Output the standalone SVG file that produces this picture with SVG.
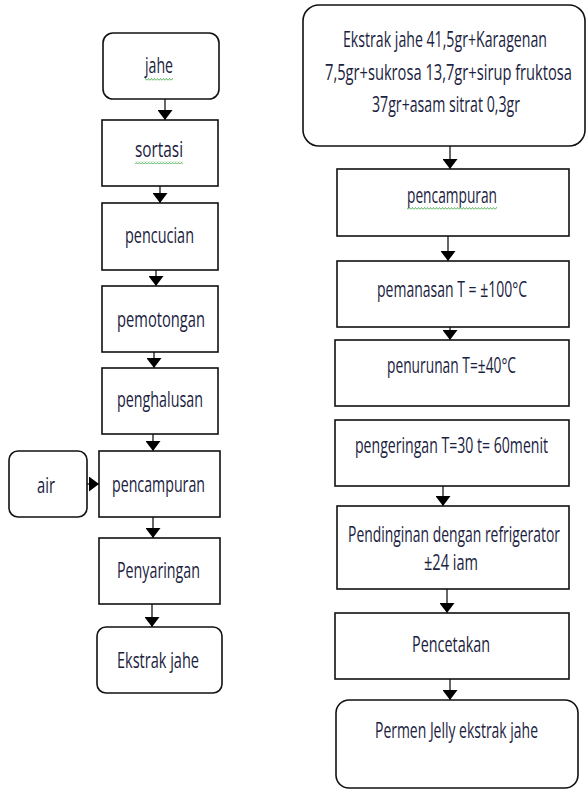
<svg xmlns="http://www.w3.org/2000/svg" width="587" height="789" viewBox="0 0 587 789">
<style>
.box{fill:#fff;stroke:#111;stroke-width:1.6}
.t{font-family:"Open Sans","Noto Sans","Liberation Sans",sans-serif;font-size:22px;fill:#1a2240;text-anchor:middle}
.c{stroke:#000;stroke-width:1.2;fill:none;marker-end:url(#ah)}
</style>
<defs>
<marker id="ah" viewBox="0 0 10 15" refX="10" refY="7.5" markerUnits="userSpaceOnUse" markerWidth="10" markerHeight="15" orient="auto">
<path d="M0 0 L10 7.5 L0 15 Z" fill="#000"/>
</marker>
<pattern id="sq" width="3" height="3" patternUnits="userSpaceOnUse">
<path d="M0 2.5 L1.5 0.5 L3 2.5" stroke="#4caf50" stroke-width="0.9" fill="none"/>
</pattern>
</defs>
<rect width="587" height="789" fill="#fff"/>
<g id="connectors">
<line class="c" x1="165" y1="99" x2="165" y2="120"/>
<line class="c" x1="160" y1="186" x2="160" y2="203"/>
<line class="c" x1="156" y1="270" x2="156" y2="286"/>
<line class="c" x1="154" y1="352" x2="154" y2="368"/>
<line class="c" x1="153" y1="434" x2="153" y2="451"/>
<line class="c" x1="87" y1="484" x2="99" y2="484"/>
<line class="c" x1="153" y1="517" x2="153" y2="538"/>
<line class="c" x1="152" y1="604" x2="152" y2="627"/>
<line class="c" x1="450" y1="146" x2="450" y2="169"/>
<line class="c" x1="448" y1="236" x2="448" y2="261"/>
<line class="c" x1="450" y1="327" x2="450" y2="340"/>
<line class="c" x1="443" y1="486" x2="443" y2="506"/>
<line class="c" x1="447" y1="589" x2="447" y2="613"/>
<line class="c" x1="450" y1="679" x2="450" y2="700"/>
</g>
<g id="n-jahe">
<rect class="box" x="103" y="33" width="116" height="66" rx="10"/>
<text class="t" transform="translate(159 73) scale(0.62 1)" textLength="45.2" lengthAdjust="spacingAndGlyphs">jahe</text>
<rect x="145" y="78" width="28" height="3" fill="url(#sq)"/>
</g>
<g id="n-sortasi">
<rect class="box" x="102" y="120" width="116" height="66"/>
<text class="t" transform="translate(159 157) scale(0.62 1)" textLength="77.4" lengthAdjust="spacingAndGlyphs">sortasi</text>
<rect x="135" y="161" width="48" height="3" fill="url(#sq)"/>
</g>
<g id="n-pencucian">
<rect class="box" x="102" y="203" width="116" height="67"/>
<text class="t" transform="translate(159.5 243) scale(0.62 1)" textLength="111.3" lengthAdjust="spacingAndGlyphs">pencucian</text>
</g>
<g id="n-pemotongan">
<rect class="box" x="102" y="286" width="116" height="66"/>
<text class="t" transform="translate(161 327) scale(0.62 1)" textLength="141.9" lengthAdjust="spacingAndGlyphs">pemotongan</text>
</g>
<g id="n-penghalusan">
<rect class="box" x="102" y="368" width="116" height="66"/>
<text class="t" transform="translate(160 407) scale(0.62 1)" textLength="138.7" lengthAdjust="spacingAndGlyphs">penghalusan</text>
</g>
<g id="n-air">
<rect class="box" x="9" y="451" width="78" height="66" rx="9"/>
<text class="t" transform="translate(46 493) scale(0.62 1)" textLength="29" lengthAdjust="spacingAndGlyphs">air</text>
</g>
<g id="n-pencampuran1">
<rect class="box" x="99" y="451" width="121" height="66"/>
<text class="t" transform="translate(158.5 492) scale(0.62 1)" textLength="150" lengthAdjust="spacingAndGlyphs">pencampuran</text>
</g>
<g id="n-penyaringan">
<rect class="box" x="99" y="538" width="121" height="66"/>
<text class="t" transform="translate(158.5 578) scale(0.62 1)" textLength="133.9" lengthAdjust="spacingAndGlyphs">Penyaringan</text>
</g>
<g id="n-ekstrak">
<rect class="box" x="97" y="627" width="125" height="66" rx="9"/>
<text class="t" transform="translate(158 668) scale(0.62 1)" textLength="132.3" lengthAdjust="spacingAndGlyphs">Ekstrak jahe</text>
</g>
<g id="n-bahan">
<rect class="box" x="303" y="5" width="282" height="141" rx="16"/>
<text class="t" transform="translate(445 47) scale(0.62 1)" textLength="329" lengthAdjust="spacingAndGlyphs">Ekstrak jahe 41,5gr+Karagenan</text>
<text class="t" transform="translate(448.5 80) scale(0.62 1)" textLength="398.4" lengthAdjust="spacingAndGlyphs">7,5gr+sukrosa 13,7gr+sirup fruktosa</text>
<text class="t" transform="translate(446 112) scale(0.62 1)" textLength="238.7" lengthAdjust="spacingAndGlyphs">37gr+asam sitrat 0,3gr</text>
</g>
<g id="n-pencampuran2">
<rect class="box" x="337" y="169" width="232" height="67"/>
<text class="t" transform="translate(452 203) scale(0.62 1)" textLength="145.2" lengthAdjust="spacingAndGlyphs">pencampuran</text>
<rect x="407" y="207" width="90" height="3" fill="url(#sq)"/>
</g>
<g id="n-pemanasan">
<rect class="box" x="337" y="261" width="232" height="66"/>
<text class="t" transform="translate(452 297) scale(0.62 1)" textLength="241.9" lengthAdjust="spacingAndGlyphs">pemanasan T = ±100°C</text>
</g>
<g id="n-penurunan">
<rect class="box" x="335" y="340" width="234" height="66"/>
<text class="t" transform="translate(451.5 373) scale(0.62 1)" textLength="208.1" lengthAdjust="spacingAndGlyphs">penurunan T=±40°C</text>
</g>
<g id="n-pengeringan">
<rect class="box" x="335" y="420" width="234" height="66"/>
<text class="t" transform="translate(451.5 453) scale(0.62 1)" textLength="311.3" lengthAdjust="spacingAndGlyphs">pengeringan T=30 t= 60menit</text>
</g>
<g id="n-pendinginan">
<rect class="box" x="337" y="506" width="232" height="83"/>
<text class="t" transform="translate(454 542) scale(0.62 1)" textLength="341.9" lengthAdjust="spacingAndGlyphs">Pendinginan dengan refrigerator</text>
<text class="t" transform="translate(451 570) scale(0.62 1)" textLength="87.1" lengthAdjust="spacingAndGlyphs">±24 iam</text>
</g>
<g id="n-pencetakan">
<rect class="box" x="335" y="613" width="234" height="66"/>
<text class="t" transform="translate(451 652) scale(0.62 1)" textLength="125.8" lengthAdjust="spacingAndGlyphs">Pencetakan</text>
</g>
<g id="n-permen">
<rect class="box" x="336" y="700" width="242" height="88" rx="13"/>
<text class="t" transform="translate(456.5 738) scale(0.62 1)" textLength="262.9" lengthAdjust="spacingAndGlyphs">Permen Jelly ekstrak jahe</text>
</g>
</svg>
